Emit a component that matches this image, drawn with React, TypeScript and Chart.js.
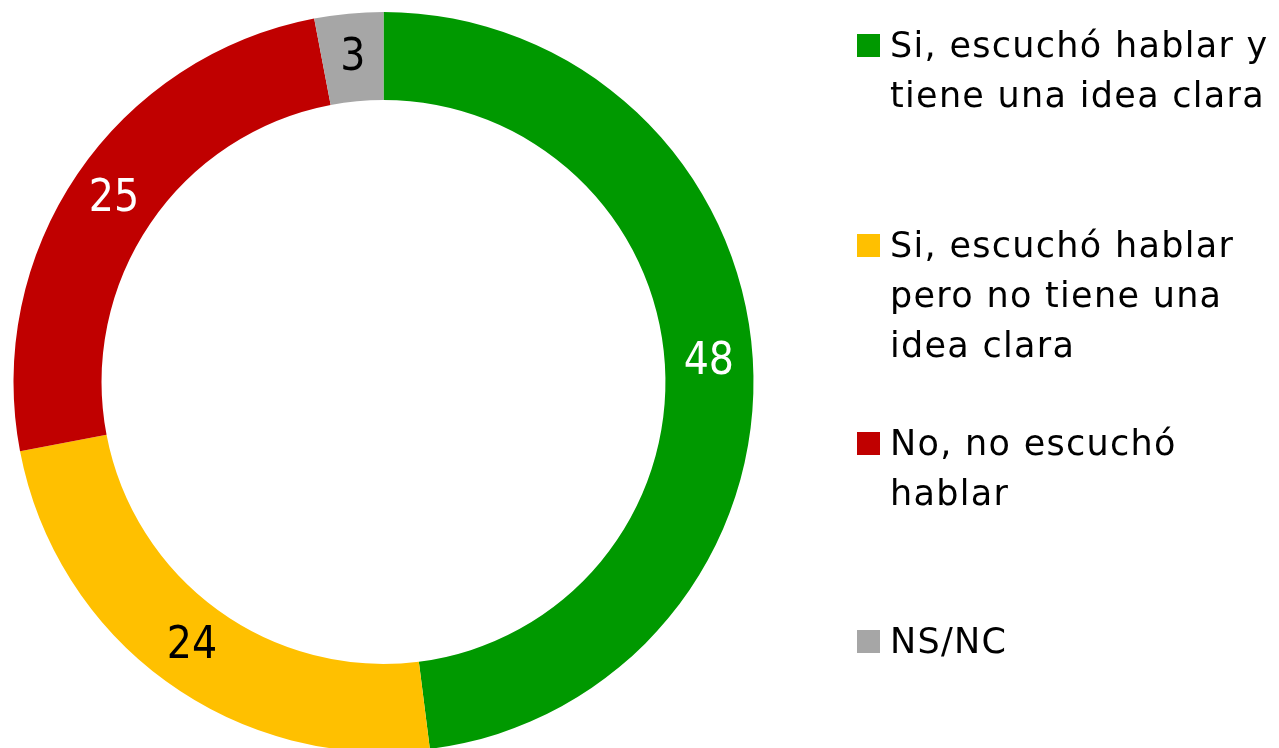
import React, { useEffect, useRef } from "react";
import { Chart, registerables } from "chart.js";

Chart.register(...registerables);

const categories: string[][] = [
  ["Si, escuchó hablar y", "tiene una idea clara"],
  ["Si, escuchó hablar", "pero no tiene una", "idea clara"],
  ["No, no escuchó", "hablar"],
  ["NS/NC"],
];
const values: number[] = [48, 24, 25, 3];
const colors: string[] = ["#009900", "#FFC000", "#C00000", "#A6A6A6"];
const labelColors: string[] = ["#FFFFFF", "#000000", "#FFFFFF", "#000000"];

const FONT = '"DejaVu Sans Condensed", "DejaVu Sans", sans-serif';
const LEGEND_FONT = '"DejaVu Sans", sans-serif';

const labelsPlugin = {
  id: "sliceLabels",
  afterDatasetsDraw(chart: any) {
    const ctx = chart.ctx;
    const meta = chart.getDatasetMeta(0);
    ctx.save();
    ctx.font = `44px ${FONT}`;
    ctx.textAlign = "center";
    ctx.textBaseline = "middle";
    meta.data.forEach((arc: any, i: number) => {
      const p = arc.tooltipPosition();
      ctx.fillStyle = labelColors[i];
      ctx.fillText(String(values[i]), p.x, p.y + 1);
    });
    ctx.restore();
  },
};

const legendPlugin = {
  id: "customLegend",
  afterDraw(chart: any) {
    const ctx = chart.ctx;
    ctx.save();
    ctx.font = `35px ${LEGEND_FONT}`;
    (ctx as any).letterSpacing = "1.3px";
    ctx.textAlign = "left";
    ctx.textBaseline = "alphabetic";
    const baselines = [57, 257, 455, 653];
    categories.forEach((lines, i) => {
      const b = baselines[i];
      ctx.fillStyle = colors[i];
      ctx.fillRect(857, b - 23, 23, 23);
      ctx.fillStyle = "#000000";
      lines.forEach((ln, j) => {
        ctx.fillText(ln, 890, b + j * 50);
      });
    });
    ctx.restore();
  },
};

export default function App() {
  const ref = useRef<HTMLCanvasElement | null>(null);
  useEffect(() => {
    if (!ref.current) return;
    const chart = new Chart(ref.current, {
      type: "doughnut",
      data: {
        labels: categories,
        datasets: [
          {
            data: values,
            backgroundColor: colors,
            borderWidth: 0,
          },
        ],
      },
      options: {
        animation: false,
        responsive: false,
        maintainAspectRatio: false,
        cutout: "76.2%",
        layout: { padding: { left: 13.5, right: 1279 - 753.5, top: 12, bottom: 760 - 752 } },
        plugins: {
          legend: { display: false },
          tooltip: { enabled: false },
        },
      },
      plugins: [labelsPlugin, legendPlugin],
    });
    return () => chart.destroy();
  }, []);
  return (
    <div
      style={{
        position: "fixed",
        left: 0,
        top: 0,
        width: 1279,
        height: 748,
        overflow: "hidden",
        background: "#FFFFFF",
      }}
    >
      <canvas ref={ref} width={1279} height={760} style={{ display: "block" }} />
    </div>
  );
}
